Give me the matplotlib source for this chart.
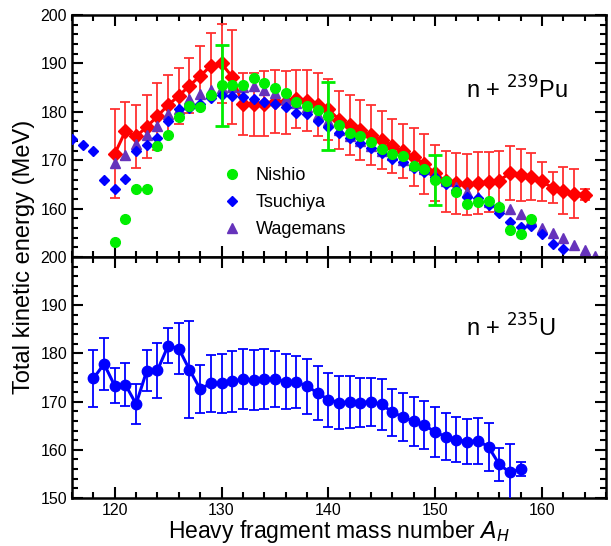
import matplotlib
matplotlib.use("Agg")
import matplotlib.pyplot as plt
from matplotlib.ticker import MultipleLocator
import numpy as np

plt.rcParams['font.family'] = ['Liberation Sans', 'DejaVu Sans']

# ---- n + 239Pu (top panel) ----
pu_x = list(range(120, 165))
pu_tke = [171.3, 176.0, 174.9, 176.9, 179.1, 181.4, 183.3, 185.4, 187.4, 189.5,
          190.0, 187.2, 181.6, 181.6, 181.7, 182.1, 182.0, 182.7, 182.3, 181.5,
          180.5, 178.4, 177.3, 176.2, 175.2, 174.2, 172.9, 171.9, 170.7, 169.2,
          167.3, 165.6, 165.2, 165.0, 165.2, 165.4, 165.8, 167.3, 166.9, 166.6,
          165.6, 164.3, 163.7, 163.1, 162.9]
pu_err = [9.2, 6.0, 6.6, 6.5, 6.9, 6.3, 5.8, 5.7, 6.1, 6.7,
          8.1, 9.7, 6.4, 6.5, 6.7, 6.5, 6.5, 6.0, 6.3, 6.5,
          6.3, 6.0, 6.2, 6.2, 6.2, 6.0, 5.6, 5.6, 6.0, 6.2,
          5.8, 6.2, 6.3, 6.3, 6.4, 6.2, 6.1, 5.6, 5.4, 4.8,
          4.0, 3.2, 4.8, 5.0, 1.2]

nishio_x = list(range(120, 160))
nishio_tke = [153.0, 157.9, 164.0, 164.0, 172.9, 175.2, 179.0, 181.1, 181.0, 183.5,
              185.5, 185.5, 185.5, 186.9, 185.9, 184.9, 183.9, 182.1, 181.2, 180.4,
              179.1, 177.3, 175.7, 174.9, 173.7, 172.3, 171.2, 170.9, 168.7, 168.1,
              165.9, 165.8, 163.5, 160.9, 161.4, 161.6, 160.3, 155.5, 154.7, 157.9]
nishio_err_x = [130, 140, 150]
nishio_err_y = [185.5, 179.1, 165.9]
nishio_err = [8.4, 7.0, 5.1]

tsuchiya_x = list(range(116, 163))
tsuchiya_tke = [174.4, 173.2, 171.8, 166.0, 164.1, 166.1, 171.9, 173.1, 174.5, 178.0,
                180.5, 180.8, 181.6, 182.8, 183.5, 183.3, 183.1, 182.6, 182.0, 181.6,
                180.9, 179.8, 179.6, 178.0, 176.8, 175.7, 174.5, 173.5, 172.5, 171.5,
                170.3, 169.6, 168.3, 167.6, 166.6, 165.0, 163.8, 162.4, 162.1, 160.7,
                159.0, 157.3, 156.1, 156.4, 154.7, 152.6, 151.6]

wagemans_x = list(range(120, 166))
wagemans_tke = [169.5, 171.1, 173.3, 175.3, 177.1, 179.5, 180.5, 182.6, 183.7, 184.6,
                185.0, 185.2, 185.1, 185.3, 184.6, 183.8, 182.6, 181.8, 181.0, 179.3,
                178.0, 176.3, 175.0, 174.0, 173.0, 171.8, 171.0, 170.1, 169.0, 168.1,
                167.0, 165.6, 164.5, 163.5, 162.5, 161.3, 160.5, 159.9, 158.9, 157.6,
                156.0, 154.9, 153.9, 152.5, 151.4, 150.2]

# ---- n + 235U (bottom panel) ----
u_x = list(range(118, 159))
u_tke = [174.8, 177.8, 173.3, 173.5, 169.5, 176.4, 176.5, 181.6, 181.0, 176.6,
         172.6, 173.8, 173.8, 174.2, 174.7, 174.5, 174.7, 174.7, 174.1, 174.1,
         173.2, 171.8, 170.4, 169.8, 169.9, 169.8, 170.0, 169.4, 167.8, 166.8,
         165.9, 165.1, 163.7, 162.7, 162.1, 161.7, 161.9, 160.6, 157.0, 155.3,
         156.0]
u_err = [6.0, 5.4, 3.6, 4.5, 4.1, 4.3, 5.7, 3.6, 5.3, 10.1,
         4.9, 5.9, 6.1, 6.3, 6.3, 6.2, 6.3, 5.9, 5.7, 5.4,
         5.7, 5.6, 5.6, 5.5, 5.4, 5.1, 5.0, 5.2, 4.9, 5.0,
         5.1, 5.0, 5.1, 4.9, 4.7, 4.6, 4.8, 4.9, 3.4, 6.0,
         1.4]

W, H = 611, 546
fig = plt.figure(figsize=(W / 100, H / 100), dpi=100)
left, right = 72 / W, 606 / W
ax1 = fig.add_axes([left, 1 - 257 / H, right - left, 242 / H])
ax2 = fig.add_axes([left, 1 - 498 / H, right - left, 241 / H])

red = '#ff0000'
green = '#00ee00'
blue = '#0000ff'
purple = '#6633bb'

ax1.errorbar(pu_x, pu_tke, yerr=pu_err, fmt='none', ecolor='#ff3030',
             elinewidth=1.3, capsize=3.5, capthick=1.3, zorder=2)
ax1.plot(pu_x, pu_tke, '-D', color=red, lw=2.2, ms=7, zorder=3)
ax1.plot(wagemans_x, wagemans_tke, '^', color=purple, ms=7, ls='none',
         label='Wagemans', zorder=4)
ax1.plot(tsuchiya_x, tsuchiya_tke, 'D', color=blue, ms=5.5, ls='none',
         label='Tsuchiya', zorder=5)
ax1.plot(nishio_x, nishio_tke, 'o', color=green, ms=7, ls='none',
         label='Nishio', zorder=6)
ax1.errorbar(nishio_err_x, nishio_err_y, yerr=nishio_err, fmt='none',
             ecolor=green, elinewidth=2, capsize=5, capthick=2, zorder=6)

handles, labels = ax1.get_legend_handles_labels()
ax1.legend(handles[::-1], labels[::-1], loc='upper left',
           bbox_to_anchor=(0.27, 0.40), frameon=False, fontsize=13,
           handlelength=1.0, handletextpad=0.8, labelspacing=0.55,
           borderaxespad=0)

ax1.text(0.737, 0.69, r'n + $^{239}$Pu', transform=ax1.transAxes,
         fontsize=17, va='center', ha='left')

ax2.errorbar(u_x, u_tke, yerr=u_err, fmt='-o', color=blue, lw=2.2, ms=7.5,
             elinewidth=1.3, capsize=3.5, capthick=1.3, zorder=3)
ax2.text(0.737, 0.705, r'n + $^{235}$U', transform=ax2.transAxes,
         fontsize=17, va='center', ha='left')

for ax in (ax1, ax2):
    ax.set_xlim(116, 166)
    ax.set_ylim(150, 200)
    ax.xaxis.set_major_locator(MultipleLocator(10))
    ax.xaxis.set_minor_locator(MultipleLocator(2))
    ax.yaxis.set_major_locator(MultipleLocator(10))
    ax.yaxis.set_minor_locator(MultipleLocator(2))
    ax.tick_params(which='both', direction='in', top=True, right=True,
                   labelsize=11.5, width=1.5)
    ax.tick_params(which='major', length=8)
    ax.tick_params(which='minor', length=4)
    for s in ax.spines.values():
        s.set_linewidth(1.8)

ax1.tick_params(labelbottom=False)
ax1.set_yticks([160, 170, 180, 190, 200])

ax2.set_xlabel(r'Heavy fragment mass number $A_H$', fontsize=16.5, labelpad=0)
fig.text(0.04, (1 - 257 / H), 'Total kinetic energy (MeV)', rotation=90,
         fontsize=17, ha='center', va='center')

fig.savefig('out.png', dpi=100)
